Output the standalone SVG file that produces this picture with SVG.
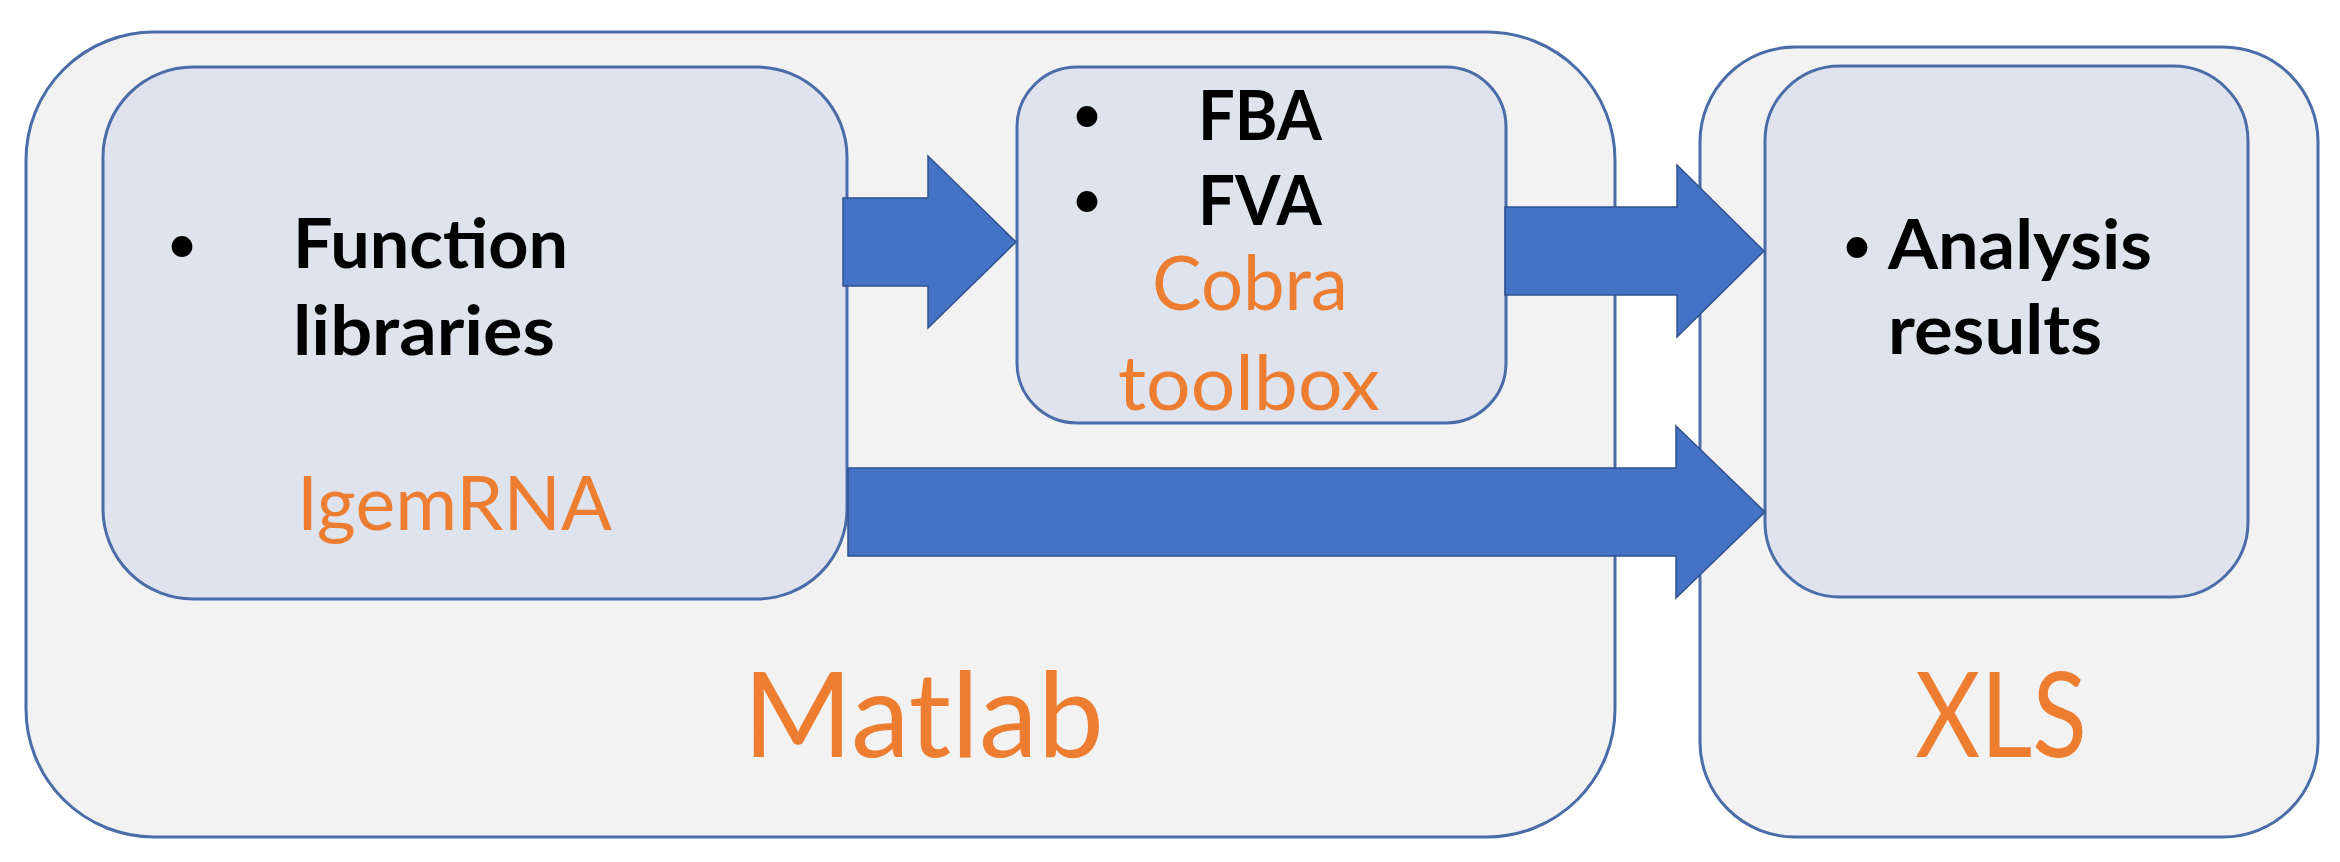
<svg xmlns="http://www.w3.org/2000/svg" width="2340" height="862" viewBox="0 0 2340 862">
  <style>
    .outer { fill: #f2f2f2; stroke: #4a6da8; stroke-width: 3; }
    .inner { fill: #dee3ed; stroke: #4a6da8; stroke-width: 3; }
    .arrow { fill: #4472c4; stroke: #2f528f; stroke-width: 1.5; }
    .bold { font-family: Lato, "Open Sans", "Liberation Sans", sans-serif; font-weight: bold; font-size: 68px; fill: #000000; }
    .bullet { font-family: Lato, "Open Sans", "Liberation Sans", sans-serif; font-size: 56px; fill: #000000; }
    .org { font-family: Lato, "Open Sans", "Liberation Sans", sans-serif; font-size: 76px; fill: #ed7d31; }
    .big { font-family: Lato, "Open Sans", "Liberation Sans", sans-serif; font-size: 118px; fill: #ed7d31; }
  </style>
  <rect width="2340" height="862" fill="#ffffff"/>

  <g id="matlab">
    <rect class="outer" x="26" y="32" width="1589" height="805" rx="128" ry="128"/>
    <text class="big" x="743" y="757" textLength="361" lengthAdjust="spacingAndGlyphs">Matlab</text>
  </g>

  <g id="xls">
    <rect class="outer" x="1700" y="47" width="618" height="790" rx="95" ry="95"/>
    <text class="big" x="1915" y="757" textLength="172" lengthAdjust="spacingAndGlyphs">XLS</text>
  </g>

  <g id="igemrna">
    <rect class="inner" x="103" y="67" width="744" height="532" rx="90" ry="90"/>
    <text class="bullet" x="182" y="263" text-anchor="middle">•</text>
    <text class="bold" x="293" y="268" textLength="275" lengthAdjust="spacingAndGlyphs">Function</text>
    <text class="bold" x="293" y="355" textLength="262" lengthAdjust="spacingAndGlyphs">libraries</text>
    <text class="org" x="297" y="530" textLength="315" lengthAdjust="spacingAndGlyphs">IgemRNA</text>
  </g>

  <g id="cobra">
    <rect class="inner" x="1017" y="67" width="489" height="356" rx="60" ry="60"/>
    <text class="bullet" x="1087" y="133" text-anchor="middle">•</text>
    <text class="bold" x="1198" y="140" textLength="124" lengthAdjust="spacingAndGlyphs">FBA</text>
    <text class="bullet" x="1087" y="218" text-anchor="middle">•</text>
    <text class="bold" x="1198" y="225" textLength="124" lengthAdjust="spacingAndGlyphs">FVA</text>
    <text class="org" x="1152" y="310" textLength="196" lengthAdjust="spacingAndGlyphs">Cobra</text>
    <text class="org" x="1118" y="410" textLength="262" lengthAdjust="spacingAndGlyphs">toolbox</text>
  </g>

  <g id="analysis">
    <rect class="inner" x="1765" y="66" width="483" height="531" rx="75" ry="75"/>
    <text class="bullet" x="1857" y="264" text-anchor="middle">•</text>
    <text class="bold" x="1888" y="269" textLength="264" lengthAdjust="spacingAndGlyphs">Analysis</text>
    <text class="bold" x="1888" y="354" textLength="214" lengthAdjust="spacingAndGlyphs">results</text>
  </g>

  <g id="connectors">
    <polygon class="arrow" points="843,198 928,198 928,156 1016,242 928,328 928,286 843,286"/>
    <polygon class="arrow" points="1505,207 1677,207 1677,165 1764,251 1677,337 1677,295 1505,295"/>
    <polygon class="arrow" points="848,468 1676,468 1676,426 1765,512 1676,598 1676,556 848,556"/>
  </g>
</svg>
